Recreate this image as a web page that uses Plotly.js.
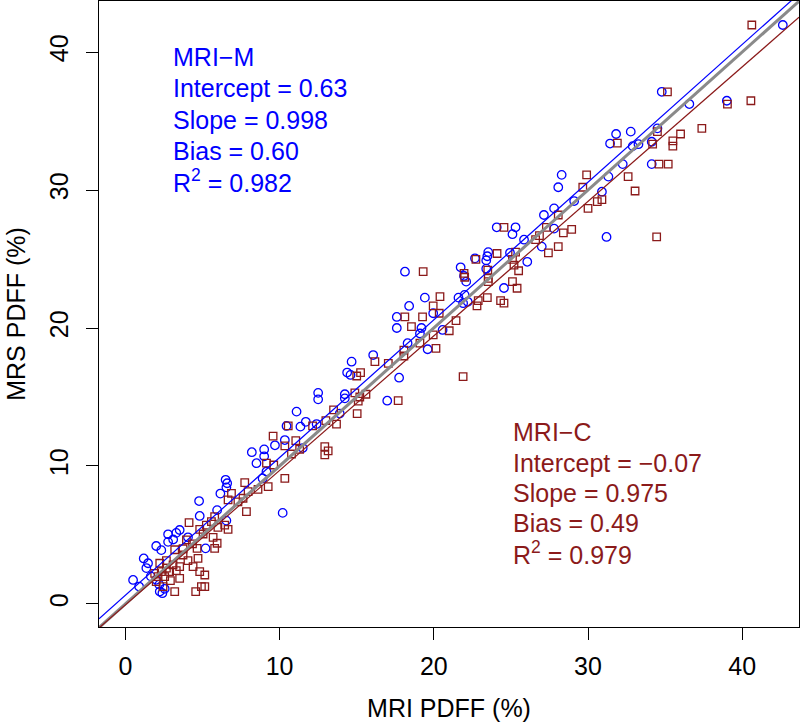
<!DOCTYPE html>
<html>
<head>
<meta charset="utf-8">
<script src="https://cdn.plot.ly/plotly-3.0.1.min.js"></script>
<style>
  html, body { margin: 0; padding: 0; background: #ffffff; }
  #chart { width: 800px; height: 726px; }
</style>
</head>
<body>
<div id="chart"></div>
<script>
// ---- Data (MRI PDFF vs MRS PDFF, %) ----
var mriM_x = [
  8.2, 9.0, 9.7, 9.0, 8.5, 9.15, 8.9, 6.5, 6.6, 6.55, 6.16, 4.78, 5.95, 6.55, 4.82, 3.52, 2.77, 2.0, 2.33, 2.77,
  3.1, 4.06, 5.2, 1.19, 1.47, 1.36, 0.5, 0.89, 2.23, 2.4, 10.2, 1.65, 2.0, 2.2, 2.55, 3.3,
  17.6, 17.6, 16.07, 14.67, 14.38, 14.6, 17.75, 12.5, 12.5, 14.23, 14.23, 16.98, 11.1, 11.7, 11.35, 10.45, 12.4, 13.9, 10.34, 11.5,
  27.8, 27.14, 29.1, 24.08, 25.3, 25.1, 25.85, 27.8, 27.0, 23.53, 23.47, 23.4, 22.67, 24.94, 26.06, 23.4, 21.74, 21.96, 22.1,
  18.13, 19.42, 18.4, 21.6, 22.0, 21.9, 22.2, 24.55, 19.96, 19.6, 19.1, 19.2, 18.3, 20.57,
  42.63, 36.57, 39.0, 34.78, 34.5, 32.77, 31.82, 31.43, 33.27, 32.9, 34.13, 32.25, 34.13, 31.32, 30.9, 28.29, 28.07, 31.2
];
var mriM_y = [
  11.0, 11.2, 11.5, 10.7, 10.2, 9.6, 9.1, 9.0, 8.75, 8.45, 8.0, 7.46, 6.8, 6.04, 6.38, 5.36, 5.05, 4.2, 3.9, 4.5,
  4.67, 4.83, 4.03, 3.3, 2.95, 2.6, 1.74, 1.26, 0.9, 0.78, 6.6, 2.0, 1.75, 1.4, 1.1, 5.15,
  20.8, 20.0, 18.04, 17.56, 16.77, 16.6, 16.4, 15.3, 14.83, 15.2, 14.9, 14.73, 13.94, 13.2, 12.85, 12.9, 13.04, 13.8, 11.88, 11.3,
  28.67, 28.19, 29.2, 27.3, 27.3, 26.8, 26.4, 27.2, 25.9, 25.5, 25.2, 24.9, 25.05, 25.45, 24.8, 24.3, 24.4, 23.77, 23.36,
  24.08, 22.2, 21.6, 22.2, 22.4, 21.8, 21.9, 22.9, 21.07, 18.46, 19.6, 20.0, 18.9, 19.86,
  41.96, 36.23, 36.47, 37.12, 34.47, 34.23, 34.06, 33.37, 33.32, 33.18, 33.5, 31.88, 31.88, 30.97, 29.88, 31.1, 30.2, 26.6
];

var mriC_x = [
  9.15, 9.62, 9.26, 8.6, 7.74, 7.96, 7.63, 7.85, 7.3, 6.88, 6.66, 5.79, 5.58, 6.0, 6.44, 6.66, 5.25, 4.82, 5.04, 4.13,
  3.96, 4.35, 4.65, 5.69, 5.95, 5.79, 4.71, 3.74, 3.52, 3.09, 2.66, 2.33, 2.55, 2.92, 3.52, 3.3, 4.82, 5.15, 4.93, 5.15,
  4.56, 3.2, 2.44, 2.0, 1.9, 2.23, 2.66, 3.2, 3.74, 4.06, 4.39, 2.87, 2.12,
  17.69, 15.25, 15.0, 14.88, 15.2, 15.6, 15.1, 15.03, 16.18, 17.05, 13.5, 13.69, 13.0, 12.14, 10.56, 9.58, 10.34, 11.05, 11.3, 10.77,
  12.93, 12.93, 13.15, 10.34, 18.06, 18.06, 19.96,
  28.07, 30.0, 24.55, 27.3, 26.85, 28.4, 28.94, 26.6, 25.3, 27.43, 28.07, 24.1, 22.73, 25.1, 25.2, 25.5, 23.5, 23.53, 23.53,
  21.96, 22.0, 25.1, 25.4, 23.47, 22.88, 22.8, 24.33, 24.55, 19.31, 20.4, 19.96, 20.35, 19.27, 18.12, 18.55, 21.44, 21.0, 20.14, 19.1, 21.9,
  40.62, 40.56, 39.04, 35.15, 37.38, 34.5, 36.0, 35.5, 35.5, 34.19, 31.9, 34.6, 35.2, 32.6, 33.05, 29.91, 29.66, 30.9, 30.6, 34.45
];
var mriC_y = [
  10.2, 10.07, 8.5, 8.3, 8.8, 8.14, 7.66, 6.69, 7.4, 8.02, 7.54, 6.33, 5.97, 5.55, 5.72, 5.41, 5.72, 5.41, 5.07, 5.89,
  4.64, 4.35, 4.03, 4.83, 4.4, 4.03, 3.31, 3.55, 2.7, 2.83, 2.59, 2.34, 1.98, 1.69, 1.86, 2.41, 2.34, 2.1, 1.26, 1.26,
  0.9, 0.9, 1.26, 1.62, 2.22, 2.95, 3.14, 3.93, 4.0, 3.14, 2.7, 2.34, 1.98,
  14.73, 16.77, 16.52, 15.3, 15.0, 15.2, 14.7, 13.8, 17.56, 17.44, 14.06, 13.04, 13.28, 12.9, 12.9, 12.17, 11.45, 11.84, 11.2, 10.87,
  11.4, 10.8, 11.1, 9.1, 18.4, 17.97, 19.5,
  28.19, 28.67, 27.3, 27.3, 26.7, 26.9, 27.15, 26.4, 25.5, 25.45, 25.9, 25.4, 24.98, 24.98, 24.56, 24.15, 24.2, 23.6, 23.36,
  23.96, 23.68, 23.36, 22.88, 22.2, 21.99, 21.6, 21.99, 21.8, 24.08, 22.27, 21.6, 21.07, 20.8, 20.8, 20.1, 20.53, 19.8, 18.53, 18.9, 16.47,
  41.96, 36.47, 36.23, 37.12, 34.47, 34.23, 34.06, 33.56, 33.18, 33.32, 33.4, 31.88, 31.88, 30.97, 29.93, 31.1, 30.2, 29.3, 29.16, 26.6
];

// Regression statistics shown on the chart
var methods    = ["MRI\u2212M", "MRI\u2212C"];
var intercepts = [0.63, -0.07];
var slopes     = [0.998, 0.975];
var biases     = [0.60, 0.49];
var r2         = [0.982, 0.979];
var interceptLabels = ["0.63", "\u22120.07"];
var slopeLabels     = ["0.998", "0.975"];
var biasLabels      = ["0.60", "0.49"];
var r2Labels        = ["0.982", "0.979"];

var tickVals   = [0, 10, 20, 30, 40];
var tickLabels = ["0", "10", "20", "30", "40"];

// ---- Styling ----
var blue = "#0000ff";
var red  = "#8b1a1a";
var xRange = [-1.71, 43.68];
var yRange = [-1.67, 43.7];
var FONT = "Liberation Sans, Arial, Helvetica, sans-serif";

function lineTrace(a, b, color, width) {
  return {
    x: [xRange[0], xRange[1]],
    y: [a + b * xRange[0], a + b * xRange[1]],
    mode: "lines", type: "scatter",
    line: { color: color, width: width },
    hoverinfo: "skip", showlegend: false
  };
}

var traces = [
  { x: mriM_x, y: mriM_y, mode: "markers", type: "scatter", name: methods[0],
    marker: { symbol: "circle-open", size: 8.5, color: blue, line: { color: blue, width: 1.3 } }, showlegend: false },
  { x: mriC_x, y: mriC_y, mode: "markers", type: "scatter", name: methods[1],
    marker: { symbol: "square-open", size: 7.5, color: red, line: { color: red, width: 1.3 } }, showlegend: false },
  lineTrace(0, 1, "#8a8a8a", 3),
  lineTrace(intercepts[0], slopes[0], blue, 1.2),
  lineTrace(intercepts[1], slopes[1], red, 1.2)
];

function block(i, xp, ys, color) {
  var lines = [
    methods[i],
    "Intercept = " + interceptLabels[i],
    "Slope = " + slopeLabels[i],
    "Bias = " + biasLabels[i],
    "R<sup>2</sup> = " + r2Labels[i]
  ];
  return lines.map(function (t, k) {
    return { text: t, xref: "paper", yref: "paper", x: xp, y: ys[k],
      xanchor: "left", yanchor: "middle", showarrow: false,
      font: { family: FONT, size: 25, color: color } };
  });
}

var annotations = []
  .concat(block(0, 0.1035, [0.9113, 0.861, 0.8107, 0.7596, 0.7117], blue))
  .concat(block(1, 0.588, [0.3115, 0.262, 0.214, 0.1661, 0.1182], red));

var axisCommon = {
  showgrid: false, zeroline: false,
  showline: true, mirror: true, linecolor: "#000000", linewidth: 1,
  ticks: "outside", ticklen: 12, tickwidth: 1, tickcolor: "#000000",
  tickmode: "array", tickvals: tickVals, ticktext: tickLabels,
  tickfont: { family: FONT, size: 25, color: "#000000" },
  automargin: false
};

var layout = {
  width: 800, height: 726,
  margin: { l: 99, r: 1, t: 1, b: 99 },
  paper_bgcolor: "#ffffff", plot_bgcolor: "#ffffff",
  showlegend: false,
  xaxis: Object.assign({}, axisCommon, {
    range: xRange, ticklabelstandoff: 5,
    title: { text: "MRI PDFF (%)", font: { family: FONT, size: 25, color: "#000000" }, standoff: 20 }
  }),
  yaxis: Object.assign({}, axisCommon, {
    range: yRange, tickangle: -90, ticklabelstandoff: 8,
    title: { text: "MRS PDFF (%)", font: { family: FONT, size: 25, color: "#000000" }, standoff: 12 }
  }),
  annotations: annotations
};

Plotly.newPlot("chart", traces, layout, { displayModeBar: false, staticPlot: true });
</script>
</body>
</html>
